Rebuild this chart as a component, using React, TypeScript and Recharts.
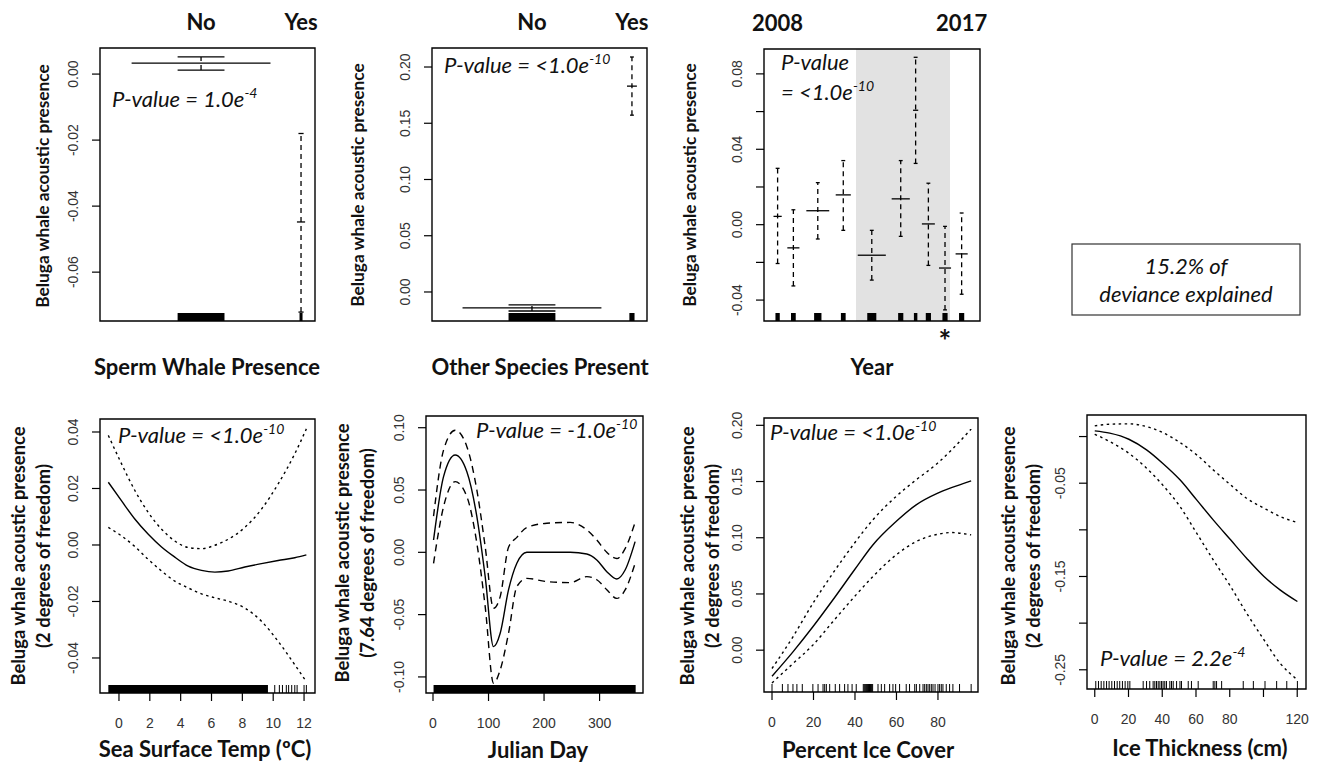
import React from "react";
import {
  ComposedChart,
  Line,
  Scatter,
  XAxis,
  YAxis,
  ReferenceArea,
} from "recharts";

// ---- parametric terms (factor levels) ----
const spermLevels = ["No", "Yes"];
const spermFit = [0.0033, -0.0448];
const spermLower = [0.0012, -0.0721];
const spermUpper = [0.0052, -0.018];

const otherLevels = ["No", "Yes"];
const otherFit = [-0.0142, 0.183];
const otherLower = [-0.0169, 0.1572];
const otherUpper = [-0.0115, 0.2089];

const years = ["2008", "2009", "2010", "2011", "2012", "2013", "2014", "2015", "2016", "2017"];
const yearFit = [0.0044, -0.0123, 0.0074, 0.0158, -0.0162, 0.0137, 0.0607, 0.0004, -0.023, -0.0155];
const yearLower = [-0.0206, -0.0325, -0.0076, -0.003, -0.0294, -0.0062, 0.0325, -0.0216, -0.0452, -0.0369];
const yearUpper = [0.0299, 0.0079, 0.0223, 0.034, -0.003, 0.034, 0.0888, 0.022, -0.0009, 0.0062];

// ---- smooth terms ----
const sstTemp = [-0.69, 0.17, 1.04, 1.9, 2.76, 3.62, 4.49, 5.35, 6.22, 7.08, 8.16, 9.24, 10.32, 11.4, 12.15];
const sstFit = [0.0222, 0.0156, 0.0091, 0.0038, -0.0007, -0.0043, -0.0075, -0.009, -0.0096, -0.0092, -0.0078, -0.0066, -0.0055, -0.0045, -0.0035];
const sstUpper = [0.0388, 0.0287, 0.0192, 0.0115, 0.0056, 0.0014, -0.0009, -0.0013, -0.0001, 0.002, 0.0062, 0.0127, 0.0216, 0.0323, 0.0411];
const sstLower = [0.0062, 0.0032, -0.0006, -0.0051, -0.0092, -0.0128, -0.0152, -0.0173, -0.0187, -0.0199, -0.0223, -0.027, -0.0341, -0.0424, -0.0484];
const sstRugBand = [-0.69, 9.66];
const sstRug = [10.1, 10.4, 10.6, 10.85, 11.0, 11.2, 11.4, 11.55, 12.0, 12.15];

const julianDay = [1, 19, 40, 61, 79, 94, 109, 121, 136, 151, 169, 205, 247, 277, 295, 313, 331, 346, 364];
const julianFit = [0.0099, 0.0607, 0.0781, 0.0647, 0.0286, -0.0195, -0.0757, -0.065, -0.0302, -0.0088, 0.0, 0.0, 0.0, -0.0013, -0.0061, -0.0155, -0.0214, -0.0142, 0.0086];
const julianUpper = [0.029, 0.082, 0.098, 0.0848, 0.05, 0.0045, -0.0449, -0.0356, 0.004, 0.012, 0.02, 0.0233, 0.024, 0.018, 0.0099, 0.0, -0.005, 0.003, 0.024];
const julianLower = [-0.0088, 0.0366, 0.0567, 0.0447, 0.0072, -0.0436, -0.1051, -0.0944, -0.065, -0.0275, -0.0209, -0.0235, -0.0243, -0.0195, -0.022, -0.03, -0.037, -0.0302, -0.0088];
const julianRugBand = [1, 365];

const iceCover = [0, 10.1, 19.7, 29.3, 39.7, 48.6, 59.8, 69.5, 79.9, 86.5, 96];
const iceCoverFit = [-0.0232, -0.0015, 0.0208, 0.0446, 0.0713, 0.0936, 0.1144, 0.1292, 0.1396, 0.1445, 0.1506];
const iceCoverUpper = [-0.0163, 0.0119, 0.0416, 0.0683, 0.0951, 0.1159, 0.1367, 0.1515, 0.1664, 0.178, 0.1967];
const iceCoverLower = [-0.0291, -0.0119, 0.0045, 0.0253, 0.0475, 0.0654, 0.0847, 0.0966, 0.1031, 0.1046, 0.1025];
const iceCoverRug = [0, 5, 7.7, 10.1, 12, 14.6, 19.7, 22.2, 24.6, 25.4, 26.2, 27.8, 30.5, 32.6, 35, 36.6, 38.6, 40.6, 44, 44.5, 45, 45.5, 46, 46.5, 47, 47.5, 48, 48.5, 51.1, 52.7, 54.3, 56.7, 58.3, 59.6, 61.5, 64.7, 66.3, 68.8, 69.6, 71.2, 72.8, 73.6, 74.4, 75.2, 76, 76.8, 77.6, 78.6, 80, 80.8, 81.6, 82.4, 84, 85.6, 87.2, 90.4, 96];

const iceThick = [0, 8.9, 20.2, 30.7, 40.2, 50.5, 60.4, 70.2, 80.5, 90, 100.3, 109.8, 120.1];
const iceThickFit = [0.0061, 0.0036, -0.0029, -0.0143, -0.0286, -0.0464, -0.0679, -0.0893, -0.1107, -0.1304, -0.15, -0.1643, -0.1768];
const iceThickUpper = [0.0114, 0.0132, 0.0136, 0.0107, 0.0043, -0.0064, -0.0196, -0.0357, -0.0518, -0.0661, -0.0768, -0.0857, -0.0921];
const iceThickLower = [0.0025, -0.0054, -0.0179, -0.0339, -0.0518, -0.075, -0.1036, -0.1321, -0.1607, -0.1893, -0.2179, -0.2429, -0.2607];
const iceThickRug = [0.6, 2.2, 3.8, 5.4, 7, 8.5, 10.1, 11.7, 13.3, 14.8, 16.4, 18, 19.6, 20.8, 28.7, 30.7, 32.6, 34.6, 35.6, 36.6, 37.6, 38.6, 39.6, 40.5, 41.5, 42.5, 44.5, 45.5, 46.5, 48.5, 50.5, 51.4, 55.4, 57.3, 61.3, 70.2, 71.2, 72.2, 75.2, 88, 94, 100.9, 107.8, 113.8, 120.1];

// ---- layout of the factor panels (x positions / widths in plot units) ----
const spermPos = [0.47, 0.935];
const spermMeanHalf = [0.323, 0.019];
const spermCapHalf = [0.109, 0.012];
const spermRugHalf = [0.109, 0.007];
const otherPos = [0.465, 0.93];
const otherMeanHalf = [0.323, 0.023];
const otherCapHalf = [0.109, 0.009];
const otherRugHalf = [0.109, 0.012];
const yearPos = [6.3, 13.6, 24.9, 36.7, 49.9, 63.3, 70.2, 76.1, 83.8, 91.5];
const yearMeanHalf = [1.9, 2.8, 5.3, 3.5, 6.5, 4.2, 1.2, 3.0, 2.8, 2.8];
const yearCapHalf = 0.9;
const yearRugHalf = [1.0, 1.1, 1.7, 1.1, 2.1, 1.2, 0.8, 1.2, 1.2, 1.2];
const yearShade = [42.6, 86.1];

const LEFT = 100;
const RIGHT = 14;
const TOP = 48;
const BOTTOM = 64;
const RUG_PX = 8;
const TXT = "#333";
const INK = "#111";
const CAL = "Lato, 'Open Sans', sans-serif";
const HEL = "'Liberation Sans', Arial, sans-serif";
const BIG = 22;

type Box = { x: number; y: number; w: number; h: number };

const YTick = (props: any) => {
  const { x, y, payload, labelSet } = props;
  if (labelSet && !labelSet.includes(payload.value)) return null;
  return (
    <text x={x} y={y} transform={`rotate(-90 ${x} ${y})`} textAnchor="middle"
      fontSize={14} fill={TXT} fontFamily={HEL}>
      {payload.value.toFixed(2)}
    </text>
  );
};

const XTick = (props: any) => {
  const { x, y, payload, labelSet } = props;
  if (labelSet && !labelSet.includes(payload.value)) return null;
  return (
    <text x={x} y={y} dy="0.71em" textAnchor="middle" fontSize={14} fill={TXT} fontFamily={HEL}>
      {payload.value}
    </text>
  );
};

const TopTick = (props: any) => {
  const { x, y, index, names } = props;
  return (
    <text x={x} y={y} textAnchor="middle" dominantBaseline="central" fontSize={BIG}
      fontWeight={700} fill={INK} fontFamily={CAL}>
      {names[index]}
    </text>
  );
};

const RugTick = (p: any) => (
  <line x1={p.cx} x2={p.cx} y1={p.cy} y2={p.cy - RUG_PX} stroke="#000" strokeWidth={1} />
);

const pts = (xs: number[], ys: number[]) => xs.map((x, i) => ({ x, y: ys[i] }));

const curve = (key: string, xs: number[], ys: number[], dash?: string) => (
  <Line key={key} data={pts(xs, ys)} dataKey="y" type="monotone" stroke="#000"
    strokeWidth={1.4} strokeDasharray={dash} dot={false} activeDot={false}
    isAnimationActive={false} />
);

const seg = (key: string, x1: number, y1: number, x2: number, y2: number, dash?: string) => (
  <Line key={key} data={[{ x: x1, y: y1 }, { x: x2, y: y2 }]} dataKey="y" type="linear"
    stroke="#000" strokeWidth={1.3} strokeDasharray={dash} dot={false} activeDot={false}
    isAnimationActive={false} />
);

const factorMarks = (id: string, pos: number[], fit: number[], lo: number[], hi: number[],
  meanHalf: number[], capHalf: number[] | number) =>
  pos.flatMap((p, i) => {
    const c = Array.isArray(capHalf) ? capHalf[i] : capHalf;
    return [
      seg(`${id}-v${i}`, p, lo[i], p, hi[i], "5 4"),
      seg(`${id}-lo${i}`, p - c, lo[i], p + c, lo[i]),
      seg(`${id}-hi${i}`, p - c, hi[i], p + c, hi[i]),
      seg(`${id}-m${i}`, p - meanHalf[i], fit[i], p + meanHalf[i], fit[i]),
    ];
  });

const rugBlocks = (id: string, pos: number[], half: number[], yd: number[], box: Box) => {
  const h = ((yd[1] - yd[0]) * RUG_PX) / box.h;
  return pos.map((p, i) => (
    <ReferenceArea key={`${id}-r${i}`} x1={p - half[i]} x2={p + half[i]} y1={yd[0]} y2={yd[0] + h}
      fill="#000" fillOpacity={1} stroke="none" ifOverflow="visible" />
  ));
};

const rugBand = (key: string, band: number[], yd: number[], box: Box) => (
  <ReferenceArea key={key} x1={band[0]} x2={band[1]} y1={yd[0]} y2={yd[0] + ((yd[1] - yd[0]) * RUG_PX) / box.h}
    fill="#000" fillOpacity={1} stroke="none" ifOverflow="visible" />
);

const rugTicks = (key: string, values: number[], yd: number[]) => (
  <Scatter key={key} data={values.map((v) => ({ x: v, y: yd[0] }))} shape={RugTick}
    isAnimationActive={false} />
);

type PanelProps = {
  box: Box;
  xDomain: number[];
  yDomain: number[];
  xTicks?: number[];
  xLabelSet?: number[];
  yTicks: number[];
  yLabelSet?: number[];
  topTicks?: number[];
  topNames?: string[];
  children?: React.ReactNode;
};

const Panel = ({ box, xDomain, yDomain, xTicks, xLabelSet, yTicks, yLabelSet, topTicks, topNames, children }: PanelProps) => {
  const width = LEFT + box.w + RIGHT;
  const height = TOP + box.h + BOTTOM;
  const hasTop = !!topTicks;
  return (
    <div style={{ position: "absolute", left: box.x - LEFT, top: box.y - TOP }}>
      <ComposedChart width={width} height={height}
        margin={{ top: hasTop ? 0 : TOP, right: RIGHT, bottom: 0, left: 0 }}>
        {hasTop && (
          <XAxis xAxisId="top" orientation="top" type="number" dataKey="x" domain={xDomain}
            allowDataOverflow ticks={topTicks} interval={0} height={TOP} axisLine={false}
            tickLine={false} tickSize={0} tickMargin={27} tick={<TopTick names={topNames} />} />
        )}
        {xTicks ? (
          <XAxis type="number" dataKey="x" domain={xDomain} allowDataOverflow ticks={xTicks}
            interval={0} height={BOTTOM} axisLine={false} tickSize={8} tickMargin={17}
            tickLine={{ stroke: "#000", strokeWidth: 1.2 }} tick={<XTick labelSet={xLabelSet} />} />
        ) : (
          <XAxis type="number" dataKey="x" domain={xDomain} allowDataOverflow height={BOTTOM}
            axisLine={false} tickLine={false} tick={false} />
        )}
        <YAxis type="number" dataKey="y" domain={yDomain} allowDataOverflow ticks={yTicks}
          interval={0} width={LEFT} axisLine={false} tickSize={8} tickMargin={14}
          tickLine={{ stroke: "#000", strokeWidth: 1.2 }} tick={<YTick labelSet={yLabelSet} />} />
        {children}
        <ReferenceArea x1={xDomain[0]} x2={xDomain[1]} y1={yDomain[0]} y2={yDomain[1]}
          fill="none" stroke="#000" strokeWidth={1.4} ifOverflow="visible" />
      </ComposedChart>
    </div>
  );
};

const b1: Box = { x: 100, y: 48, w: 215, h: 273 };
const b2: Box = { x: 432, y: 48, w: 215, h: 273 };
const b3: Box = { x: 764, y: 49, w: 216, h: 272 };
const b4: Box = { x: 100, y: 419, w: 215, h: 274 };
const b5: Box = { x: 426, y: 416, w: 217, h: 277 };
const b6: Box = { x: 764, y: 418, w: 214, h: 274 };
const b7: Box = { x: 1087, y: 415, w: 219, h: 274 };

const yd1 = [-0.0748, 0.0079];
const yd2 = [-0.0258, 0.2169];
const yd3 = [-0.0511, 0.0932];
const yd4 = [-0.0524, 0.0446];
const yd5 = [-0.1129, 0.1094];
const yd6 = [-0.0372, 0.2065];
const yd7 = [-0.2706, 0.0231];

const YTitle = ({ x, y, size, text }: { x: number; y: number; size: number; text: string }) => (
  <text x={x} y={y} transform={`rotate(-90 ${x} ${y})`} textAnchor="middle"
    dominantBaseline="central" fontSize={size} fontWeight={700} fill={INK} fontFamily={CAL}>
    {text}
  </text>
);

const XTitle = ({ x, y, text }: { x: number; y: number; text: string }) => (
  <text x={x} y={y} textAnchor="middle" dominantBaseline="central" fontSize={BIG}
    fontWeight={700} fill={INK} fontFamily={CAL}>
    {text}
  </text>
);

const PVal = ({ x, y, pre, exp }: { x: number; y: number; pre: string; exp: string }) => (
  <text x={x} y={y} fontSize={BIG} fontStyle="italic" fill={INK} fontFamily={CAL}>
    {pre}
    <tspan dy={-9} fontSize={14}>{exp}</tspan>
  </text>
);

const App = () => {
  const lead = "Beluga whale acoustic presence";
  const df2 = "(2 degrees of freedom)";
  return (
    <div style={{ position: "relative", width: 1322, height: 768, background: "#fff" }}>
      <style>{"body{margin:0}"}</style>

      <Panel box={b1} xDomain={[0, 1]} yDomain={yd1} yTicks={[-0.06, -0.04, -0.02, 0]}
        topTicks={spermPos} topNames={spermLevels}>
        {rugBlocks("sp", spermPos, spermRugHalf, yd1, b1)}
        {factorMarks("sp", spermPos, spermFit, spermLower, spermUpper, spermMeanHalf, spermCapHalf)}
      </Panel>

      <Panel box={b2} xDomain={[0, 1]} yDomain={yd2} yTicks={[0, 0.05, 0.1, 0.15, 0.2]}
        topTicks={otherPos} topNames={otherLevels}>
        {rugBlocks("ot", otherPos, otherRugHalf, yd2, b2)}
        {factorMarks("ot", otherPos, otherFit, otherLower, otherUpper, otherMeanHalf, otherCapHalf)}
      </Panel>

      <Panel box={b3} xDomain={[0, 100]} yDomain={yd3}
        yTicks={[-0.04, -0.02, 0, 0.02, 0.04, 0.06, 0.08]} yLabelSet={[-0.04, 0, 0.04, 0.08]}
        topTicks={[yearPos[0], yearPos[yearPos.length - 1]]}
        topNames={[years[0], years[years.length - 1]]}>
        <ReferenceArea x1={yearShade[0]} x2={yearShade[1]} y1={yd3[0]} y2={yd3[1]}
          fill="#e2e2e2" fillOpacity={1} stroke="none" />
        {rugBlocks("yr", yearPos, yearRugHalf, yd3, b3)}
        {factorMarks("yr", yearPos, yearFit, yearLower, yearUpper, yearMeanHalf, yearCapHalf)}
      </Panel>

      <Panel box={b4} xDomain={[-1.23, 12.71]} yDomain={yd4}
        xTicks={[0, 2, 4, 6, 8, 10, 12]} yTicks={[-0.04, -0.02, 0, 0.02, 0.04]}>
        {rugBand("sst-band", sstRugBand, yd4, b4)}
        {rugTicks("sst-rug", sstRug, yd4)}
        {curve("sst-up", sstTemp, sstUpper, "2.5 3.5")}
        {curve("sst-lo", sstTemp, sstLower, "2.5 3.5")}
        {curve("sst-fit", sstTemp, sstFit)}
      </Panel>

      <Panel box={b5} xDomain={[-12.6, 378.2]} yDomain={yd5}
        xTicks={[0, 100, 200, 300]} yTicks={[-0.1, -0.05, 0, 0.05, 0.1]}>
        {rugBand("jd-band", julianRugBand, yd5, b5)}
        {curve("jd-up", julianDay, julianUpper, "7 5")}
        {curve("jd-lo", julianDay, julianLower, "7 5")}
        {curve("jd-fit", julianDay, julianFit)}
      </Panel>

      <Panel box={b6} xDomain={[-3.86, 99.3]} yDomain={yd6}
        xTicks={[0, 20, 40, 60, 80]} yTicks={[0, 0.05, 0.1, 0.15, 0.2]}>
        {rugTicks("ic-rug", iceCoverRug, yd6)}
        {curve("ic-up", iceCover, iceCoverUpper, "2.5 3.5")}
        {curve("ic-lo", iceCover, iceCoverLower, "2.5 3.5")}
        {curve("ic-fit", iceCover, iceCoverFit)}
      </Panel>

      <Panel box={b7} xDomain={[-4.6, 125.2]} yDomain={yd7}
        xTicks={[0, 20, 40, 60, 80, 100, 120]} xLabelSet={[0, 20, 40, 60, 80, 120]}
        yTicks={[-0.25, -0.2, -0.15, -0.1, -0.05, 0]} yLabelSet={[-0.25, -0.15, -0.05]}>
        {rugTicks("it-rug", iceThickRug, yd7)}
        {curve("it-up", iceThick, iceThickUpper, "2.5 3.5")}
        {curve("it-lo", iceThick, iceThickLower, "2.5 3.5")}
        {curve("it-fit", iceThick, iceThickFit)}
      </Panel>

      <svg width={1322} height={768} style={{ position: "absolute", left: 0, top: 0, pointerEvents: "none" }}>
        <YTitle x={42} y={186} size={17.3} text={lead} />
        <YTitle x={357} y={185} size={17.3} text={lead} />
        <YTitle x={689} y={185} size={17.3} text={lead} />
        <YTitle x={18} y={556} size={18.4} text={lead} />
        <YTitle x={43} y={556} size={18.4} text={df2} />
        <YTitle x={342} y={553} size={18.4} text={lead} />
        <YTitle x={367} y={553} size={18.4} text="(7.64 degrees of freedom)" />
        <YTitle x={687} y={556} size={18.4} text={lead} />
        <YTitle x={712} y={556} size={18.4} text={df2} />
        <YTitle x={1008} y={556} size={18.4} text={lead} />
        <YTitle x={1033} y={556} size={18.4} text={df2} />

        <XTitle x={207} y={366} text="Sperm Whale Presence" />
        <XTitle x={540} y={366} text="Other Species Present" />
        <XTitle x={872} y={366} text="Year" />
        <XTitle x={205} y={748} text="Sea Surface Temp (ºC)" />
        <XTitle x={538} y={749} text="Julian Day" />
        <XTitle x={868} y={749} text="Percent Ice Cover" />
        <XTitle x={1200} y={747} text="Ice Thickness (cm)" />

        <text x={945} y={352} textAnchor="middle" fontSize={30} fontWeight={700} fill={INK} fontFamily={CAL}>*</text>

        <PVal x={112} y={107} pre="P-value = 1.0e" exp="-4" />
        <PVal x={444} y={73} pre="P-value = <1.0e" exp="-10" />
        <text x={781} y={70} fontSize={BIG} fontStyle="italic" fill={INK} fontFamily={CAL}>P-value</text>
        <PVal x={781} y={100} pre="= <1.0e" exp="-10" />
        <PVal x={118} y={443} pre="P-value = <1.0e" exp="-10" />
        <PVal x={476} y={438} pre="P-value = -1.0e" exp="-10" />
        <PVal x={770} y={440} pre="P-value = <1.0e" exp="-10" />
        <PVal x={1100} y={666} pre="P-value = 2.2e" exp="-4" />

        <rect x={1072} y={244} width={228} height={71} fill="#fff" stroke="#333" strokeWidth={1.2} />
        <text x={1186} y={274} textAnchor="middle" fontSize={BIG} fontStyle="italic" fill={INK} fontFamily={CAL}>15.2% of</text>
        <text x={1186} y={302} textAnchor="middle" fontSize={BIG} fontStyle="italic" fill={INK} fontFamily={CAL}>deviance explained</text>
      </svg>
    </div>
  );
};

export default App;
